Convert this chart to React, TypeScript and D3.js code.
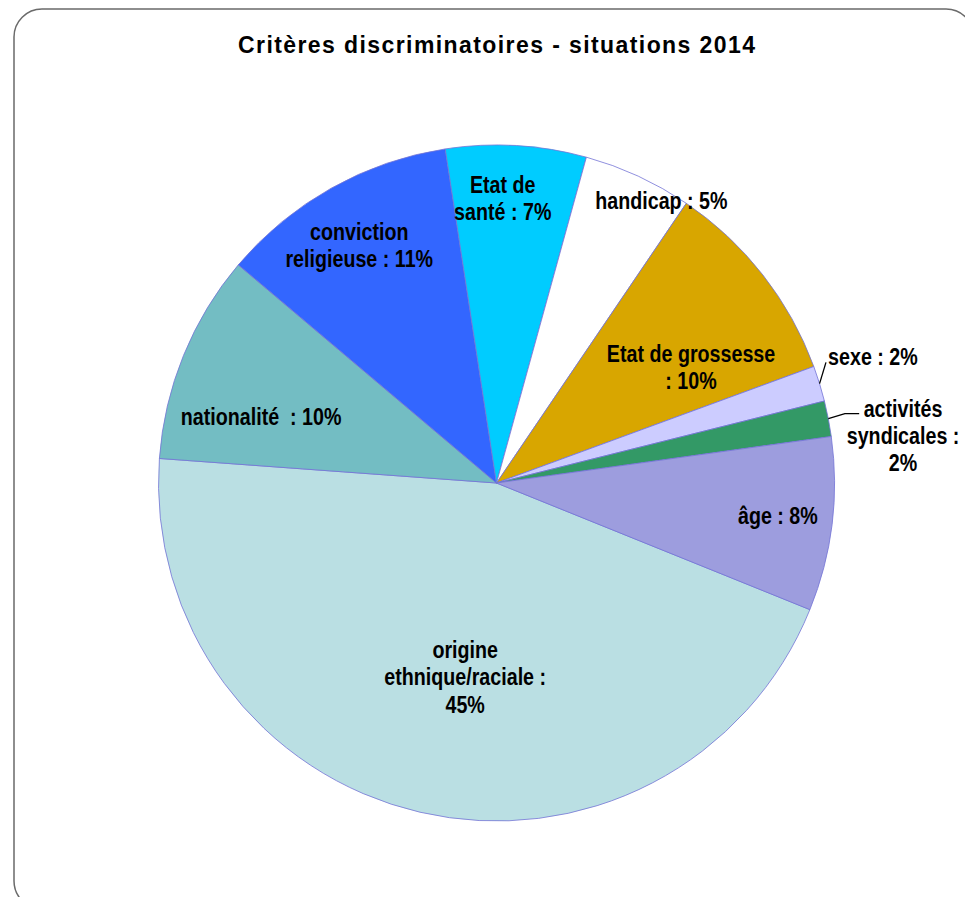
import React from "react";
import * as d3 from "d3";

// Discrimination criteria, share of situations (%), clockwise from "origine"
const categories = [
  "origine ethnique/raciale",
  "nationalité",
  "conviction religieuse",
  "Etat de santé",
  "handicap",
  "Etat de grossesse",
  "sexe",
  "activités syndicales",
  "âge",
];
const shares = [45.0, 10.0, 11.4, 6.7, 5.2, 9.9, 1.7, 1.7, 8.3];

// Label text, "{p}" is replaced by the rounded percentage, "\n" breaks a line
const labelTemplates = [
  "origine\nethnique/raciale :\n{p}",
  "nationalité  : {p}",
  "conviction\nreligieuse : {p}",
  "Etat de\nsanté : {p}",
  "handicap : {p}",
  "Etat de grossesse\n: {p}",
  "sexe : {p}",
  "activités\nsyndicales :\n{p}",
  "âge : {p}",
];

const sliceColors = [
  "#BADFE3",
  "#73BDC3",
  "#3366FF",
  "#00CCFF",
  "#FFFFFF",
  "#D8A600",
  "#CCCCFF",
  "#339966",
  "#9D9DDE",
];

const chartTitle = "Critères discriminatoires - situations 2014";

// Layout
const W = 965;
const H = 897;
const CX = 496.5;
const CY = 483;
const R = 338;
const START_DEG = 112;
const FONT = "'Liberation Sans', Arial, Helvetica, sans-serif";
const LABEL_SIZE = 24;
const LINE_GAP = 27.3;
const NARROW = 0.82;

// label block centre: angle nudge (deg) from slice middle, distance as fraction of R
const labelPlacement = [
  { da: -3.9, rf: 0.581 },
  { da: -6.3, rf: 0.724 },
  { da: -0.7, rf: 0.813 },
  { da: -2.1, rf: 0.843 },
  { da: 5.5, rf: 0.967 },
  { da: 7.2, rf: 0.67 },
  { da: -1.5, rf: 1.175 },
  { da: 4.3, rf: 1.211 },
  { da: -0.4, rf: 0.838 },
];

// leader lines for the thin outside-labelled slices
const leaders: Record<number, { da: number; rf: number; tail: number }> = {
  6: { da: -3.0, rf: 1.038, tail: 0 },
  7: { da: -0.3, rf: 1.051, tail: 14.3 },
};

const rad = (deg: number) => (deg * Math.PI) / 180;
const polar = (angle: number, r: number): [number, number] => [
  CX + r * Math.sin(angle),
  CY - r * Math.cos(angle),
];

export default function App() {
  const total = d3.sum(shares);
  const pie = d3
    .pie<number>()
    .sort(null)
    .value((d) => d)
    .startAngle(rad(START_DEG))
    .endAngle(rad(START_DEG + 360));
  const arcs = pie(shares);
  const arcGen = d3.arc<d3.PieArcDatum<number>>().innerRadius(0).outerRadius(R);
  const pct = (v: number) => `${Math.round((v / total) * 100)}%`;

  return (
    <svg
      width={W}
      height={H}
      viewBox={`0 0 ${W} ${H}`}
      style={{ position: "absolute", left: 0, top: 0, background: "#fff" }}
    >
      <rect
        x={14}
        y={9}
        width={960}
        height={900}
        rx={28}
        ry={28}
        fill="#fff"
        stroke="#6a6a6a"
        strokeWidth={1.5}
      />
      <text
        x={CX}
        y={53}
        textAnchor="middle"
        fontFamily={FONT}
        fontWeight="bold"
        fontSize={23}
        textLength={517}
        lengthAdjust="spacing"
        fill="#000"
      >
        {chartTitle}
      </text>

      <g>
        {arcs.map((a, i) => (
          <path
            key={categories[i]}
            d={arcGen(a) || ""}
            transform={`translate(${CX},${CY})`}
            fill={sliceColors[i]}
            stroke="#7373D6"
            strokeWidth={0.8}
            strokeLinejoin="round"
          />
        ))}
      </g>

      <g>
        {arcs.map((a, i) => {
          const ld = leaders[i];
          if (!ld) return null;
          const mid = (a.startAngle + a.endAngle) / 2;
          const [x0, y0] = polar(mid, R);
          const [x1, y1] = polar(mid + rad(ld.da), R * ld.rf);
          const pts = [
            [x0, y0],
            [x1, y1],
          ];
          if (ld.tail) pts.push([x1 + ld.tail, y1]);
          return (
            <polyline
              key={"leader-" + i}
              points={pts.map((p) => p.join(",")).join(" ")}
              fill="none"
              stroke="#000"
              strokeWidth={1.3}
            />
          );
        })}
      </g>

      <g fontFamily={FONT} fontWeight="bold" fontSize={LABEL_SIZE} fill="#000">
        {arcs.map((a, i) => {
          const mid = (a.startAngle + a.endAngle) / 2;
          const pl = labelPlacement[i];
          const [x, y] = polar(mid + rad(pl.da), R * pl.rf);
          const lines = labelTemplates[i].replace("{p}", pct(shares[i])).split("\n");
          const n = lines.length;
          return (
            <g key={"label-" + i} transform={`translate(${x},${y}) scale(${NARROW},1)`}>
              {lines.map((ln, j) => (
                <text
                  key={j}
                  x={0}
                  y={(j - (n - 1) / 2) * LINE_GAP + 8.5}
                  textAnchor="middle"
                  style={{ whiteSpace: "pre" }}
                >
                  {ln}
                </text>
              ))}
            </g>
          );
        })}
      </g>
    </svg>
  );
}
